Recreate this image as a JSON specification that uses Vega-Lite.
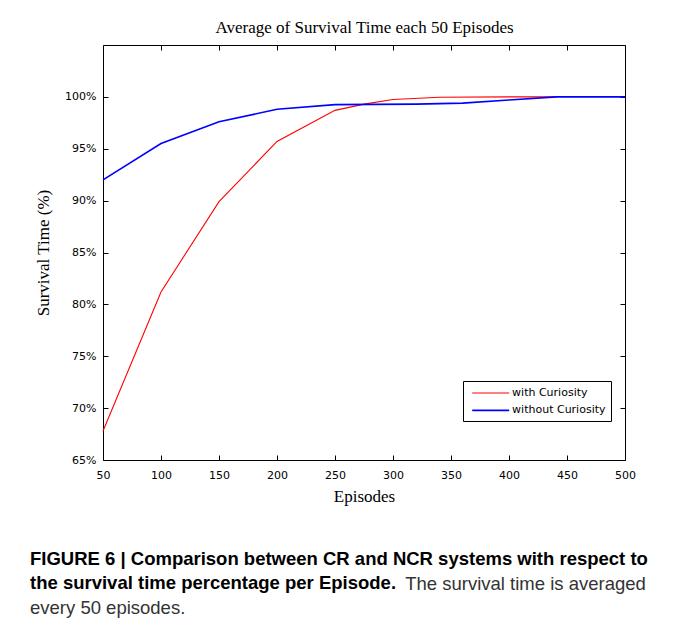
{
  "$schema": "https://vega.github.io/schema/vega-lite/v6.json",
  "width": 522,
  "height": 415,
  "autosize": {"type": "none"},
  "padding": {"left": 103, "top": 45, "right": 48, "bottom": 168},
  "background": "white",
  "config": {"view": {"stroke": "black", "strokeWidth": 1}, "font": "Liberation Sans"},
  "data": {
    "values": [
      {"ep": 50, "v": 67.8, "s": "with Curiosity"},
      {"ep": 100, "v": 81.2, "s": "with Curiosity"},
      {"ep": 150, "v": 89.9, "s": "with Curiosity"},
      {"ep": 175, "v": 92.8, "s": "with Curiosity"},
      {"ep": 200, "v": 95.7, "s": "with Curiosity"},
      {"ep": 250, "v": 98.7, "s": "with Curiosity"},
      {"ep": 275, "v": 99.3, "s": "with Curiosity"},
      {"ep": 300, "v": 99.75, "s": "with Curiosity"},
      {"ep": 340, "v": 99.97, "s": "with Curiosity"},
      {"ep": 400, "v": 100, "s": "with Curiosity"},
      {"ep": 441, "v": 100, "s": "with Curiosity"},
      {"ep": 50, "v": 92.0, "s": "without Curiosity"},
      {"ep": 100, "v": 95.5, "s": "without Curiosity"},
      {"ep": 150, "v": 97.6, "s": "without Curiosity"},
      {"ep": 200, "v": 98.8, "s": "without Curiosity"},
      {"ep": 250, "v": 99.25, "s": "without Curiosity"},
      {"ep": 320, "v": 99.3, "s": "without Curiosity"},
      {"ep": 360, "v": 99.4, "s": "without Curiosity"},
      {"ep": 400, "v": 99.7, "s": "without Curiosity"},
      {"ep": 441, "v": 100, "s": "without Curiosity"},
      {"ep": 500, "v": 100, "s": "without Curiosity"}
    ]
  },
  "title": {
    "text": ["FIGURE 6 | Comparison between CR and NCR systems with respect to", "the survival time percentage per Episode."],
    "subtitle": ["\u200b\u00a0\u00a0\u00a0\u00a0\u00a0\u00a0\u00a0\u00a0\u00a0\u00a0\u00a0\u00a0\u00a0\u00a0\u00a0\u00a0\u00a0\u00a0\u00a0\u00a0\u00a0\u00a0\u00a0\u00a0\u00a0\u00a0\u00a0\u00a0\u00a0\u00a0\u00a0\u00a0\u00a0\u00a0\u00a0\u00a0\u00a0\u00a0\u00a0\u00a0\u00a0\u00a0\u00a0\u00a0\u00a0\u00a0\u00a0\u00a0\u00a0\u00a0\u00a0\u00a0\u00a0\u00a0\u00a0\u00a0\u00a0\u00a0\u00a0\u00a0\u00a0\u00a0\u00a0\u00a0\u00a0\u00a0\u00a0\u00a0\u00a0\u00a0\u00a0\u00a0\u00a0The survival time is averaged", "every 50 episodes."],
    "orient": "bottom",
    "anchor": "start",
    "frame": "group",
    "dx": -73,
    "offset": 46,
    "font": "Liberation Sans",
    "fontSize": 18.5,
    "fontWeight": "bold",
    "color": "#000000",
    "lineHeight": 24,
    "subtitleFont": "Liberation Sans",
    "subtitleFontSize": 18.5,
    "subtitleColor": "#333333",
    "subtitleLineHeight": 24,
    "subtitlePadding": -18
  },
  "layer": [
    {
      "mark": {"type": "line"},
      "encoding": {
        "x": {
          "field": "ep", "type": "quantitative",
          "scale": {"domain": [50, 500], "nice": false, "zero": false},
          "axis": {
            "orient": "bottom",
            "values": [50, 100, 150, 200, 250, 300, 350, 400, 450, 500],
            "tickSize": -5, "tickColor": "#000000", "domain": false, "grid": false,
            "labelFont": "DejaVu Sans", "labelFontSize": 11, "labelColor": "#000000",
            "labelPadding": 14, "labelFlush": false,
            "title": "Episodes", "titleFont": "Liberation Serif", "titleFontSize": 17,
            "titleFontWeight": "normal", "titleColor": "#000000", "titlePadding": 8
          }
        },
        "y": {
          "field": "v", "type": "quantitative",
          "scale": {"domain": [65, 105], "nice": false, "zero": false},
          "axis": {
            "orient": "left",
            "values": [65, 70, 75, 80, 85, 90, 95, 100],
            "labelExpr": "datum.value + '%'",
            "tickSize": -5, "tickColor": "#000000", "domain": false, "grid": false,
            "labelFont": "DejaVu Sans", "labelFontSize": 11, "labelColor": "#000000",
            "labelPadding": 12, "labelFlush": false,
            "title": "Survival Time (%)", "titleFont": "Liberation Serif", "titleFontSize": 17,
            "titleFontWeight": "normal", "titleColor": "#000000", "titlePadding": 12
          }
        },
        "color": {
          "field": "s", "type": "nominal",
          "scale": {"domain": ["with Curiosity", "without Curiosity"], "range": ["#ff0000", "#0000ff"]},
          "legend": {
            "title": null, "orient": "none", "legendX": 360, "legendY": 336,
            "strokeColor": "#000000", "fillColor": "#ffffff", "padding": 5,
            "symbolType": "M-3,0H3", "symbolSize": 152, "symbolStrokeWidth": 1.3,
            "labelFont": "DejaVu Sans", "labelFontSize": 11, "labelColor": "#000000",
            "rowPadding": 5.4, "labelOffset": 14.4, "symbolOffset": 15.7
          }
        },
        "strokeWidth": {
          "field": "s", "type": "nominal",
          "scale": {"domain": ["with Curiosity", "without Curiosity"], "range": [1.1, 1.6]},
          "legend": null
        }
      }
    },
    {
      "mark": {"type": "point", "opacity": 0},
      "encoding": {
        "x": {
          "field": "ep", "type": "quantitative",
          "axis": {
            "orient": "top",
            "values": [50, 100, 150, 200, 250, 300, 350, 400, 450, 500],
            "tickSize": -5, "tickColor": "#000000", "domain": false, "grid": false, "labels": false,
            "title": "Average of Survival Time each 50 Episodes", "titleFont": "Liberation Serif",
            "titleFontSize": 17, "titleFontWeight": "normal", "titleColor": "#000000", "titlePadding": 8
          }
        },
        "y": {
          "field": "v", "type": "quantitative",
          "axis": {
            "orient": "right",
            "values": [65, 70, 75, 80, 85, 90, 95, 100],
            "tickSize": -5, "tickColor": "#000000", "domain": false, "grid": false, "labels": false,
            "title": null
          }
        }
      }
    }
  ],
  "resolve": {"axis": {"x": "independent", "y": "independent"}}
}
